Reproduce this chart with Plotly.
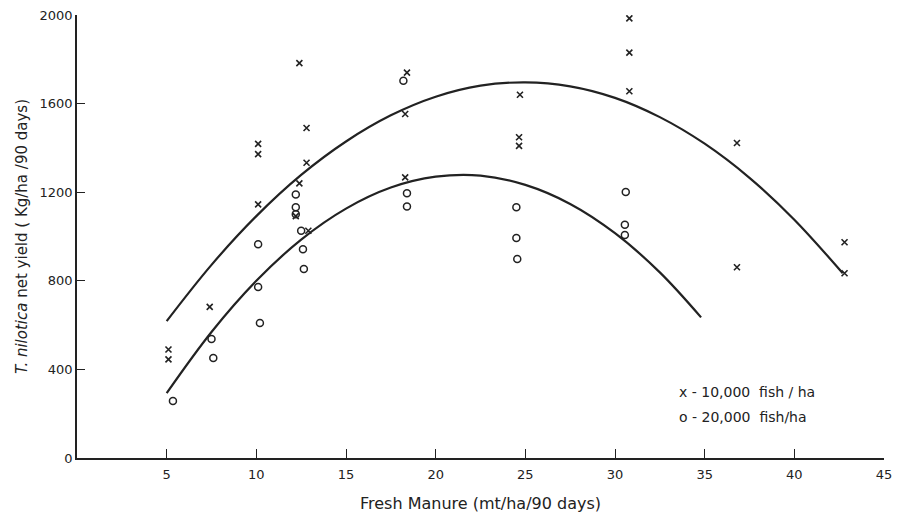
import plotly.graph_objects as go

# ---- data ----
x10_manure = [5.1, 5.1, 7.4, 10.1, 10.1, 10.1, 12.4, 12.8, 12.8, 12.4, 12.2, 12.9,
              18.4, 18.3, 18.3, 24.7, 24.65, 24.65, 30.8, 30.8, 30.8, 36.8, 36.8, 42.8, 42.8]
x10_yield = [490, 445, 682, 1418, 1372, 1145, 1783, 1490, 1333, 1240, 1092, 1026,
             1740, 1553, 1267, 1640, 1448, 1409, 1985, 1830, 1656, 1422, 861, 974, 834]

x20_manure = [5.35, 7.5, 7.6, 10.1, 10.1, 10.2, 12.2, 12.2, 12.2, 12.5, 12.6, 12.65,
              18.2, 18.4, 18.4, 24.5, 24.5, 24.55, 30.6, 30.55, 30.55]
x20_yield = [257, 537, 451, 965, 772, 609, 1190, 1132, 1101, 1026, 942, 853,
             1703, 1195, 1135, 1132, 993, 898, 1201, 1053, 1007]

curve10_x = [5, 7.5, 10, 12.5, 15, 17.5, 20, 22.5, 25, 27.5, 30, 32.5, 35, 37.5, 40, 42.7]
curve10_y = [618, 872, 1092, 1278, 1429, 1547, 1631, 1681, 1696, 1678, 1626, 1539, 1419, 1265, 1076, 834]

curve20_x = [5, 7.5, 10, 12.5, 15, 17.5, 20, 22.5, 25, 27.5, 30, 32.5, 34.8]
curve20_y = [293, 569, 800, 986, 1126, 1221, 1270, 1275, 1233, 1147, 1015, 838, 635]

x_ticks = [5, 10, 15, 20, 25, 30, 35, 40, 45]
y_ticks = [0, 400, 800, 1200, 1600, 2000]

ink = "#222222"
font = "DejaVu Sans"

fig = go.Figure()
fig.add_trace(go.Scatter(x=curve10_x, y=curve10_y, mode="lines", line=dict(color=ink, width=2.2, shape="spline"),
                         hoverinfo="skip", showlegend=False))
fig.add_trace(go.Scatter(x=curve20_x, y=curve20_y, mode="lines", line=dict(color=ink, width=2.2, shape="spline"),
                         hoverinfo="skip", showlegend=False))
fig.add_trace(go.Scatter(x=x10_manure, y=x10_yield, mode="markers", name="10,000 fish/ha",
                         marker=dict(symbol="x-thin-open", size=6, color=ink, line=dict(width=1.6, color=ink)),
                         showlegend=False))
fig.add_trace(go.Scatter(x=x20_manure, y=x20_yield, mode="markers", name="20,000 fish/ha",
                         marker=dict(symbol="circle-open", size=7, color=ink, line=dict(width=1.5, color=ink)),
                         showlegend=False))

fig.update_layout(
    width=901, height=517,
    margin=dict(l=77, r=17, t=15, b=59),
    paper_bgcolor="white", plot_bgcolor="white",
    font=dict(family=font, color=ink, size=13),
    xaxis=dict(range=[0, 45], tickvals=x_ticks, ticktext=[str(v) for v in x_ticks],
               ticks="inside", ticklen=9, tickwidth=1.3, tickcolor=ink, automargin=False,
               showline=True, linecolor=ink, linewidth=1.5, showgrid=False, zeroline=False,
               tickfont=dict(size=13), ticklabelstandoff=4,
               title=dict(text="Fresh Manure (mt/ha/90 days)", font=dict(size=16), standoff=16)),
    yaxis=dict(range=[0, 2000], tickvals=y_ticks, ticktext=[str(v) for v in y_ticks],
               ticks="inside", ticklen=8, tickwidth=1.3, tickcolor=ink, automargin=False,
               showline=True, linecolor=ink, linewidth=1.5, showgrid=False, zeroline=False,
               tickfont=dict(size=13), ticklabelstandoff=0,
               title=dict(text="<i>T. nilotica</i> net yield ( Kg/ha /90 days)", font=dict(size=15), standoff=8)),
    annotations=[
        dict(xref="paper", yref="paper", x=0.744, y=0.148, xanchor="left", yanchor="middle",
             text="x - 10,000  fish / ha", showarrow=False, font=dict(size=14, color=ink)),
        dict(xref="paper", yref="paper", x=0.744, y=0.093, xanchor="left", yanchor="middle",
             text="o - 20,000  fish/ha", showarrow=False, font=dict(size=14, color=ink)),
    ],
)

fig.write_html("out.html")
